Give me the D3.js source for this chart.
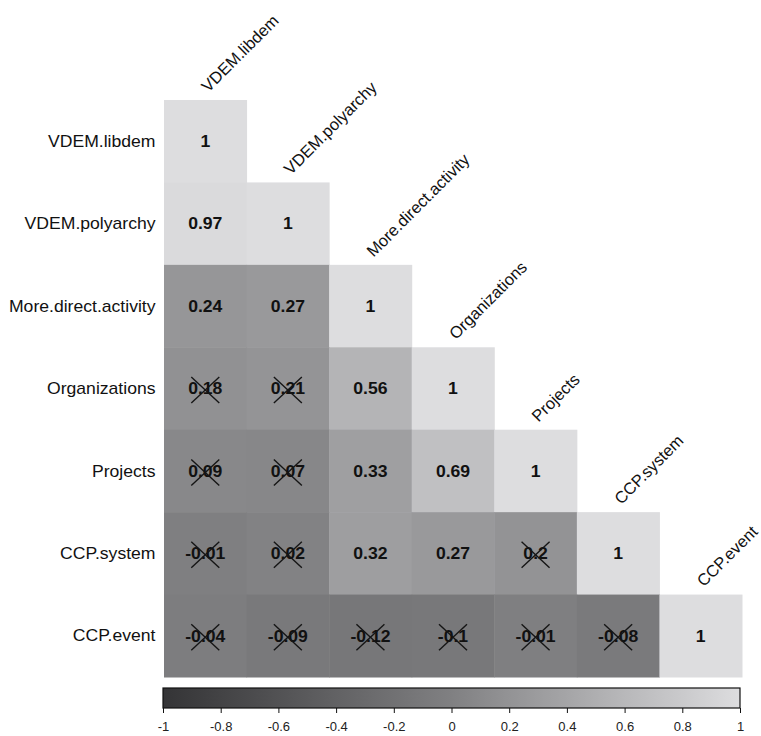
<!DOCTYPE html>
<html><head><meta charset="utf-8">
<script src="https://cdn.jsdelivr.net/npm/d3@7"></script>
<style>body{margin:0;background:#fff}svg{display:block}text{font-family:"Liberation Sans",Arial,sans-serif}</style>
</head><body><svg id="c" width="761" height="736"></svg>
<script>
const variables = ["VDEM.libdem","VDEM.polyarchy","More.direct.activity","Organizations","Projects","CCP.system","CCP.event"];
// lower triangle rows (row i has i+1 values)
const corrRows = [
  [1],
  [0.97, 1],
  [0.24, 0.27, 1],
  [0.18, 0.21, 0.56, 1],
  [0.09, 0.07, 0.33, 0.69, 1],
  [-0.01, 0.02, 0.32, 0.27, 0.2, 1],
  [-0.04, -0.09, -0.12, -0.1, -0.01, -0.08, 1]
];
const labelRows = [
  ["1"],
  ["0.97","1"],
  ["0.24","0.27","1"],
  ["0.18","0.21","0.56","1"],
  ["0.09","0.07","0.33","0.69","1"],
  ["-0.01","0.02","0.32","0.27","0.2","1"],
  ["-0.04","-0.09","-0.12","-0.1","-0.01","-0.08","1"]
];
// 1 = not significant (crossed out)
const insignificant = [
  [0],
  [0,0],
  [0,0,0],
  [1,1,0,0],
  [1,1,0,0,0],
  [1,1,0,0,1,0],
  [1,1,1,1,1,1,0]
];
const colorbarTicks = [-1,-0.8,-0.6,-0.4,-0.2,0,0.2,0.4,0.6,0.8,1];
const colorbarTickLabels = ["-1","-0.8","-0.6","-0.4","-0.2","0","0.2","0.4","0.6","0.8","1"];

const SX = 1.1; // horizontal text stretch seen in the reference
const svg = d3.select("#c");
const x = d3.scaleBand().domain(variables).range([164, 742]).padding(0);
const y = d3.scaleBand().domain(variables).range([100, 677]).padding(0);
const color = d3.scaleLinear().domain([-1, 0, 1]).range(["#343436", "#808082", "#dddddf"]);

const cells = [];
corrRows.forEach((row, i) => row.forEach((v, j) => cells.push({i, j, v, lab: labelRows[i][j], ns: insignificant[i][j]})));

svg.append("g").selectAll("rect").data(cells).join("rect")
  .attr("x", d => x(variables[d.j]))
  .attr("y", d => y(variables[d.i]))
  .attr("width", x.bandwidth() + 0.5)
  .attr("height", y.bandwidth() + 0.5)
  .attr("fill", d => color(d.v));

svg.append("g").selectAll("text").data(cells).join("text")
  .attr("transform", d => `translate(${x(variables[d.j]) + x.bandwidth() / 2},${y(variables[d.i]) + y.bandwidth() / 2}) scale(${SX},1)`)
  .attr("dy", "0.36em")
  .attr("text-anchor", "middle")
  .attr("font-size", 16)
  .attr("font-weight", "bold")
  .attr("fill", "#111")
  .text(d => d.lab);

const crosses = svg.append("g").attr("stroke", "#151515").attr("stroke-width", 1.4);
cells.filter(d => d.ns).forEach(d => {
  const cx = x(variables[d.j]) + x.bandwidth() / 2, cy = y(variables[d.i]) + y.bandwidth() / 2 + 1.5;
  const rx = 14, ry = 13;
  crosses.append("line").attr("x1", cx - rx).attr("y1", cy - ry).attr("x2", cx + rx).attr("y2", cy + ry);
  crosses.append("line").attr("x1", cx - rx).attr("y1", cy + ry).attr("x2", cx + rx).attr("y2", cy - ry);
});

// left labels
svg.append("g").selectAll("text").data(variables).join("text")
  .attr("transform", d => `translate(155.5,${y(d) + y.bandwidth() / 2}) scale(${SX},1)`)
  .attr("dy", "0.35em")
  .attr("text-anchor", "end")
  .attr("font-size", 16)
  .attr("fill", "#111")
  .text(d => d);

// top labels
svg.append("g").selectAll("text").data(variables).join("text")
  .attr("transform", d => `translate(${x(d) + x.bandwidth() / 2 + 3},${y(d) - 7}) rotate(-45)`)
  .attr("text-anchor", "start")
  .attr("font-size", 16.5)
  .attr("fill", "#111")
  .text(d => d);

// colorbar
const cb = d3.scaleLinear().domain([-1, 1]).range([163, 740]);
const defs = svg.append("defs");
const grad = defs.append("linearGradient").attr("id", "g").attr("x1", "0%").attr("x2", "100%");
d3.range(0, 1.0001, 0.1).forEach(t => grad.append("stop").attr("offset", (t * 100) + "%").attr("stop-color", color(-1 + 2 * t)));
svg.append("rect").attr("x", 163).attr("y", 688).attr("width", 577).attr("height", 20)
  .attr("fill", "url(#g)").attr("stroke", "#111").attr("stroke-width", 1.2);
const axis = d3.axisBottom(cb).tickValues(colorbarTicks).tickSize(5).tickFormat((d, i) => colorbarTickLabels[i]);
const ag = svg.append("g").attr("transform", "translate(0,708)").call(axis);
ag.select(".domain").remove();
ag.selectAll("line").attr("stroke", "#111");
ag.selectAll("text").attr("font-size", 13).attr("fill", "#222").attr("font-family", "Liberation Sans, Arial, sans-serif").attr("dy", "1.15em");
</script></body></html>
